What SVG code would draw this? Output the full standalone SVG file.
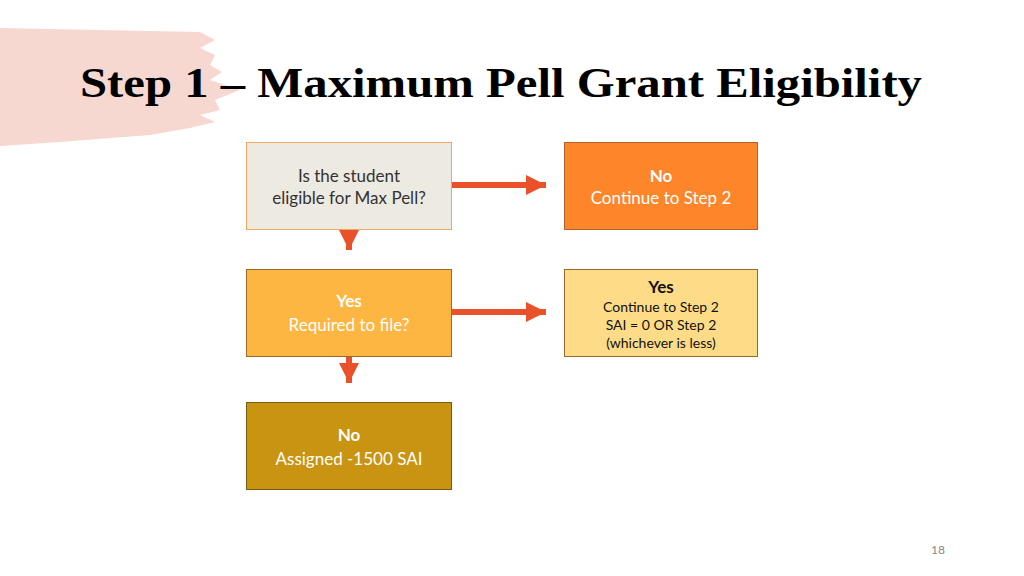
<svg xmlns="http://www.w3.org/2000/svg" width="1024" height="576" viewBox="0 0 1024 576">
<style>
.t{font-family:"Liberation Serif",serif;font-weight:bold;font-size:42px;fill:#000}
.n{font-family:"Lato","Liberation Sans",sans-serif;text-anchor:middle}
.b{font-weight:bold}
.c{stroke:#e8512a;stroke-width:6;fill:none}
</style>
<defs><marker id="a" markerWidth="4" markerHeight="4" refX="2" refY="2" orient="auto" markerUnits="userSpaceOnUse" viewBox="0 0 4 4"><path d="M0,0L4,2L0,4z" fill="#e8512a"/></marker>
<marker id="h" viewBox="0 0 10 10" refX="10" refY="5" markerWidth="20" markerHeight="20" markerUnits="userSpaceOnUse" orient="auto"><path d="M0,0L10,5L0,10z" fill="#e8512a"/></marker></defs>
<path d="M0,28 L200,32 L215,40 L200,48 L215,55 L210,65 L222,72 L210,80 L225,85 L240,90 L215,100 L220,110 L200,115 L215,122 L190,128 L150,135 L60,142 L0,146 Z" fill="#f6d8d0"/>
<text class="t" x="80" y="97" textLength="842" lengthAdjust="spacingAndGlyphs">Step 1 – Maximum Pell Grant Eligibility</text>
<g id="connectors">
<path class="c" d="M452,185H546" marker-end="url(#h)"/>
<path class="c" d="M349,230V250" marker-end="url(#h)"/>
<path class="c" d="M452,312H546" marker-end="url(#h)"/>
<path class="c" d="M349,357V383" marker-end="url(#h)"/>
</g>
<g id="q"><rect x="246.5" y="142.5" width="205" height="87" fill="#edeae2" stroke="#f0a860"/>
<text class="n" x="349" y="182" font-size="17" fill="#333">Is the student</text>
<text class="n" x="349" y="204" font-size="17" fill="#333">eligible for Max Pell?</text></g>
<g id="no1"><rect x="564.5" y="142.5" width="193" height="87" fill="#fd862a" stroke="#b5602a"/>
<text class="n b" x="661" y="182" font-size="17" fill="#fff">No</text>
<text class="n" x="661" y="204" font-size="17" fill="#fff">Continue to Step 2</text></g>
<g id="yes1"><rect x="246.5" y="269.5" width="205" height="87" fill="#fdb642" stroke="#9a6a2a"/>
<text class="n b" x="349" y="307" font-size="17" fill="#fff">Yes</text>
<text class="n" x="349" y="331" font-size="17" fill="#fff">Required to file?</text></g>
<g id="yes2"><rect x="564.5" y="269.5" width="193" height="87" fill="#fedc87" stroke="#9a6a2a"/>
<text class="n b" x="661" y="293" font-size="17" fill="#111">Yes</text>
<text class="n" x="661" y="312" font-size="14" fill="#111">Continue to Step 2</text>
<text class="n" x="661" y="330" font-size="14" fill="#111">SAI = 0 OR Step 2</text>
<text class="n" x="661" y="348" font-size="14" fill="#111">(whichever is less)</text></g>
<g id="no2"><rect x="246.5" y="402.5" width="205" height="87" fill="#c89411" stroke="#7a5a10"/>
<text class="n b" x="349" y="441" font-size="17" fill="#fff">No</text>
<text class="n" x="349" y="465" font-size="17" fill="#fff">Assigned -1500 SAI</text></g>
<text x="938" y="554" font-family="Lato,'Liberation Sans',sans-serif" font-size="12" fill="#888" text-anchor="middle">18</text>
</svg>
